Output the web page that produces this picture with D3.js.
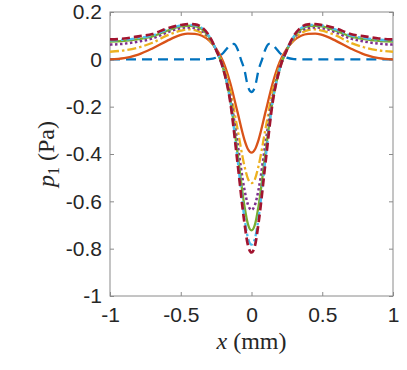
<!DOCTYPE html>
<html>
<head>
<meta charset="utf-8">
<script src="https://d3js.org/d3.v7.min.js"></script>
<style>
  body { margin: 0; background: #fff; }
  .tick text { font-family: "Liberation Sans", Arial, sans-serif; }
</style>
</head>
<body>
<div id="container"></div>
<script>
// x grid (mm) for the six main curves
var xs = [-1, -0.9, -0.8, -0.7, -0.6, -0.5, -0.45, -0.4, -0.35, -0.3, -0.25, -0.2, -0.15, -0.1, -0.05, -0.025,
          0, 0.025, 0.05, 0.1, 0.15, 0.2, 0.25, 0.3, 0.35, 0.4, 0.45, 0.5, 0.6, 0.7, 0.8, 0.9, 1];

var pOrange = [0, 0.005, 0.02, 0.046, 0.077, 0.103, 0.109, 0.108, 0.10, 0.08, 0.045, -0.01, -0.10, -0.22, -0.34, -0.38,
               -0.394, -0.38, -0.34, -0.22, -0.10, -0.01, 0.045, 0.08, 0.10, 0.108, 0.109, 0.103, 0.077, 0.046, 0.02, 0.005, 0];
var pYellow = [0.032, 0.038, 0.05, 0.07, 0.1, 0.121, 0.127, 0.123, 0.11, 0.085, 0.04, -0.025, -0.13, -0.29, -0.45, -0.505,
               -0.523, -0.505, -0.45, -0.29, -0.13, -0.025, 0.04, 0.085, 0.11, 0.123, 0.127, 0.121, 0.1, 0.07, 0.05, 0.038, 0.032];
var pPurple = [0.062, 0.066, 0.075, 0.088, 0.113, 0.132, 0.135, 0.132, 0.12, 0.09, 0.04, -0.035, -0.155, -0.35, -0.55, -0.614,
               -0.636, -0.614, -0.55, -0.35, -0.155, -0.035, 0.04, 0.09, 0.12, 0.132, 0.135, 0.132, 0.113, 0.088, 0.075, 0.066, 0.062];
var pGreen = [0.075, 0.078, 0.085, 0.097, 0.12, 0.139, 0.142, 0.14, 0.127, 0.095, 0.04, -0.038, -0.17, -0.39, -0.62, -0.697,
              -0.723, -0.697, -0.62, -0.39, -0.17, -0.038, 0.04, 0.095, 0.127, 0.14, 0.142, 0.139, 0.12, 0.097, 0.085, 0.078, 0.075];
var pCyan = [0.08, 0.083, 0.09, 0.101, 0.125, 0.143, 0.146, 0.144, 0.132, 0.098, 0.04, -0.04, -0.175, -0.415, -0.67, -0.755,
             -0.783, -0.755, -0.67, -0.415, -0.175, -0.04, 0.04, 0.098, 0.132, 0.144, 0.146, 0.143, 0.125, 0.101, 0.09, 0.083, 0.08];
var pRed = [0.084, 0.088, 0.097, 0.107, 0.13, 0.145, 0.149, 0.148, 0.135, 0.10, 0.04, -0.04, -0.18, -0.43, -0.69, -0.786,
            -0.816, -0.786, -0.69, -0.43, -0.18, -0.04, 0.04, 0.10, 0.135, 0.148, 0.149, 0.145, 0.13, 0.107, 0.097, 0.088, 0.084];

// blue curve has its own, finer grid near the centre
var xsBlue = [-1, -0.5, -0.35, -0.3, -0.25, -0.2, -0.175, -0.15, -0.125, -0.1, -0.075, -0.05, -0.025,
              0, 0.025, 0.05, 0.075, 0.1, 0.125, 0.15, 0.175, 0.2, 0.25, 0.3, 0.35, 0.5, 1];
var pBlue = [0, 0, 0, 0.001, 0.007, 0.027, 0.045, 0.061, 0.065, 0.045, 0.0, -0.045, -0.115,
             -0.138, -0.115, -0.045, 0.0, 0.045, 0.065, 0.061, 0.045, 0.027, 0.007, 0.001, 0, 0, 0];

var xTicks = [-1, -0.5, 0, 0.5, 1];
var yTicks = [0.2, 0, -0.2, -0.4, -0.6, -0.8, -1];

var series = [
  {x: xsBlue, y: pBlue, color: "#0072BD", dash: "10,6", w: 2.3},
  {x: xs, y: pOrange, color: "#D95319", dash: null, w: 2.3},
  {x: xs, y: pYellow, color: "#EDB120", dash: "9,3,2.5,3", w: 2.3},
  {x: xs, y: pPurple, color: "#7E2F8E", dash: "2.5,2.5", w: 2.5},
  {x: xs, y: pGreen, color: "#77AC30", dash: null, w: 2.3},
  {x: xs, y: pCyan, color: "#4DBEEE", dash: "8,3,2.5,3", w: 2.3},
  {x: xs, y: pRed, color: "#A2142F", dash: "8,4", w: 2.7}
];

var W = 407, H = 370;
var pl = 110, pr = 393, pt = 12, pb = 296;

var svg = d3.select("#container").append("svg")
    .attr("width", W).attr("height", H);

var x = d3.scaleLinear().domain([-1, 1]).range([pl, pr]);
var y = d3.scaleLinear().domain([-1, 0.2]).range([pb, pt]);

var fmt = function(d) { return d === 0 ? "0" : String(d); };

// box
svg.append("rect").attr("x", pl).attr("y", pt)
   .attr("width", pr - pl).attr("height", pb - pt)
   .attr("fill", "none").attr("stroke", "#8a8a8a").attr("stroke-width", 1);

// axes with inward ticks
var gx = svg.append("g").attr("transform", "translate(0," + pb + ")")
   .call(d3.axisBottom(x).tickValues(xTicks).tickFormat(fmt).tickSizeInner(-4).tickSizeOuter(0).tickPadding(11));
var gxTop = svg.append("g").attr("transform", "translate(0," + pt + ")")
   .call(d3.axisTop(x).tickValues(xTicks).tickFormat("").tickSizeInner(-4).tickSizeOuter(0));
var gy = svg.append("g").attr("transform", "translate(" + pl + ",0)")
   .call(d3.axisLeft(y).tickValues(yTicks).tickFormat(fmt).tickSizeInner(-4).tickSizeOuter(0).tickPadding(8));
var gyRight = svg.append("g").attr("transform", "translate(" + pr + ",0)")
   .call(d3.axisRight(y).tickValues(yTicks).tickFormat("").tickSizeInner(-4).tickSizeOuter(0));

[gx, gxTop, gy, gyRight].forEach(function(g) {
  g.select(".domain").remove();
  g.selectAll(".tick line").attr("stroke", "#8a8a8a");
  g.selectAll(".tick text").attr("font-size", 21).attr("fill", "#262626");
});

// curves
svg.append("clipPath").attr("id", "clip").append("rect")
   .attr("x", pl).attr("y", pt).attr("width", pr - pl).attr("height", pb - pt);

series.forEach(function(s) {
  var pts = s.x.map(function(v, i) { return [v, s.y[i]]; });
  var line = d3.line()
      .x(function(d) { return x(d[0]); })
      .y(function(d) { return y(d[1]); })
      .curve(d3.curveMonotoneX);
  svg.append("path").datum(pts)
     .attr("d", line)
     .attr("fill", "none")
     .attr("stroke", s.color)
     .attr("stroke-width", s.w)
     .attr("stroke-dasharray", s.dash)
     .attr("clip-path", "url(#clip)");
});

// axis labels
var xl = svg.append("text").attr("x", (pl + pr) / 2).attr("y", 349)
   .attr("text-anchor", "middle")
   .attr("font-family", "'Liberation Serif', 'DejaVu Serif', serif")
   .attr("font-size", 24).attr("fill", "#262626");
xl.append("tspan").attr("font-style", "italic").text("x");
xl.append("tspan").text(" (mm)");

var yl = svg.append("text")
   .attr("transform", "translate(54," + ((pt + pb) / 2) + ") rotate(-90)")
   .attr("text-anchor", "middle")
   .attr("font-family", "'Liberation Serif', 'DejaVu Serif', serif")
   .attr("font-size", 24).attr("fill", "#262626");
yl.append("tspan").attr("font-style", "italic").text("p");
yl.append("tspan").attr("font-size", 16).attr("dy", 5).text("1");
yl.append("tspan").attr("dy", -5).text(" (Pa)");
</script>
</body>
</html>
